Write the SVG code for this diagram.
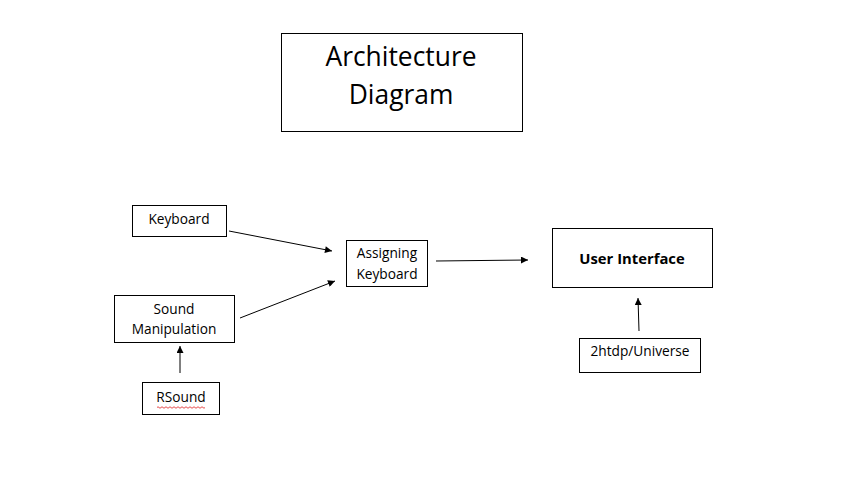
<svg xmlns="http://www.w3.org/2000/svg" width="857" height="477" viewBox="0 0 857 477">
<style>
.box{fill:#fff;stroke:#000;stroke-width:1}
.t{font-family:"Open Sans","Liberation Sans",sans-serif;font-size:13.7px;fill:#000;text-anchor:middle}
.title{font-size:26.4px}
.b{font-weight:bold;font-size:14.8px}
.c{stroke:#000;stroke-width:1;fill:none;marker-end:url(#ah)}
</style>
<defs>
<marker id="ah" viewBox="0 0 10 10" refX="10" refY="5" markerWidth="8" markerHeight="7" markerUnits="userSpaceOnUse" orient="auto">
<path d="M0,0 L10,5 L0,10 z" fill="#000"/>
</marker>
</defs>
<rect width="857" height="477" fill="#fff"/>
<g id="title">
<rect class="box" x="281.5" y="33.5" width="241" height="98"/>
<text class="t title" x="401" y="66">Architecture</text>
<text class="t title" x="401" y="104">Diagram</text>
</g>
<g id="keyboard">
<rect class="box" x="132.5" y="205.5" width="94" height="31"/>
<text class="t" x="179" y="224">Keyboard</text>
</g>
<g id="sound">
<rect class="box" x="114.5" y="295.5" width="120" height="47"/>
<text class="t" x="174" y="314">Sound</text>
<text class="t" x="174" y="334">Manipulation</text>
</g>
<g id="rsound">
<rect class="box" x="142.5" y="382.5" width="77" height="32"/>
<text class="t" x="181" y="402">RSound</text>
<path d="M157,407.5 q1,-1.5 2,0 t2,0 t2,0 t2,0 t2,0 t2,0 t2,0 t2,0 t2,0 t2,0 t2,0 t2,0 t2,0 t2,0 t2,0 t2,0 t2,0 t2,0 t2,0 t2,0 t2,0 t2,0 t2,0 t2,0" fill="none" stroke="#e02020" stroke-width="0.8"/>
</g>
<g id="assigning">
<rect class="box" x="346.5" y="240.5" width="81" height="46"/>
<text class="t" x="387" y="258">Assigning</text>
<text class="t" x="387" y="279">Keyboard</text>
</g>
<g id="ui">
<rect class="box" x="552.5" y="228.5" width="160" height="59"/>
<text class="t b" x="632" y="264">User Interface</text>
</g>
<g id="universe">
<rect class="box" x="579.5" y="338.5" width="121" height="34"/>
<text class="t" x="640" y="356">2htdp/Universe</text>
</g>
<g id="connectors">
<line class="c" x1="229" y1="231" x2="332" y2="251"/>
<line class="c" x1="240" y1="318" x2="335" y2="281"/>
<line class="c" x1="436" y1="261" x2="528" y2="260"/>
<line class="c" x1="180" y1="373" x2="180" y2="346"/>
<line class="c" x1="639" y1="331" x2="638" y2="298"/>
</g>
</svg>
